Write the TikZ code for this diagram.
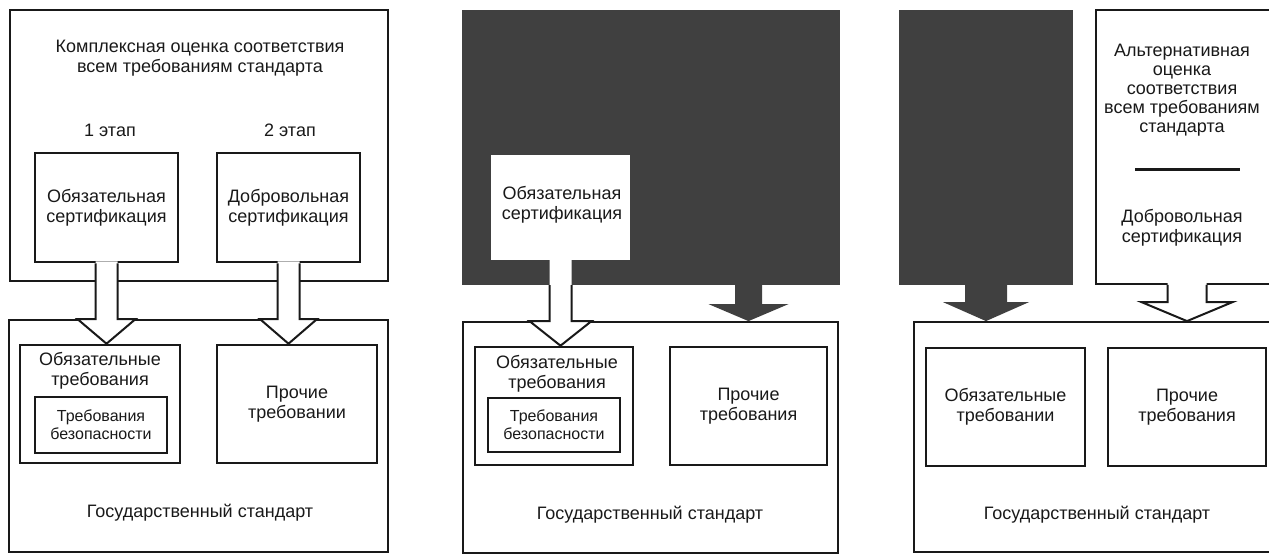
\documentclass[tikz,border=0pt]{standalone}
\usepackage{fontspec}
\setmainfont{Liberation Sans}
\usetikzlibrary{calc}
\definecolor{ink}{gray}{0.1}
\definecolor{darkfill}{gray}{0.25}

\tikzset{
  frame/.style={draw=ink, line width=1.8pt, inner sep=0pt},
  thickbox/.style={draw=ink, line width=2.6pt, inner sep=0pt, fill=white},
  lbl/.style={font=\fontsize{18}{20}\selectfont, align=center, text=ink, inner sep=0pt},
  small/.style={font=\fontsize{16}{18}\selectfont, align=center, text=ink, inner sep=0pt},
  arrowline/.style={draw=ink, line width=2pt, line join=miter},
}

% hollow block arrow: #1 fill start, #2 outline start, #3 tip, #4 head base, #5 half stem, #6 half head
\newcommand\hollowarrow[6]{%
  \fill[white] ($(#1)+(-#5,-2)$) -- ($(#4)+(-#5,0)$) -- ($(#4)+(-#6,0)$) -- (#3)
    -- ($(#4)+(#6,0)$) -- ($(#4)+(#5,0)$) -- ($(#1)+(#5,-2)$) -- cycle;
  \draw[arrowline] ($(#2)+(-#5,0)$) -- ($(#4)+(-#5,0)$) -- ($(#4)+(-#6,0)$) -- (#3)
    -- ($(#4)+(#6,0)$) -- ($(#4)+(#5,0)$) -- ($(#2)+(#5,0)$);
}
% solid block arrow: #1 start, #2 tip, #3 head base, #4 half stem, #5 half head
\newcommand\solidarrow[5]{%
  \fill[darkfill] ($(#1)+(-#4,-1)$) -- ($(#3)+(-#4,0)$) -- ($(#3)+(-#5,0)$) -- (#2)
    -- ($(#3)+(#5,0)$) -- ($(#3)+(#4,0)$) -- ($(#1)+(#4,-1)$) -- cycle;
}

\begin{document}
\begin{tikzpicture}[x=1pt, y=-1pt]
\useasboundingbox (0,0) rectangle (1269,554);

% ---------------- scheme 1: two-stage assessment ----------------
\node[frame, minimum width=378, minimum height=271] (t1) at (199,145.5) {};
\node[frame, minimum width=379, minimum height=232] (g1) at (198.5,436) {};
\node[thickbox, minimum width=143, minimum height=109] (c1) at (106.5,207.5) {};
\node[thickbox, minimum width=143, minimum height=109] (d1) at (288.5,207.5) {};
\node[thickbox, minimum width=160, minimum height=118] (r1) at (100,404) {};
\node[thickbox, minimum width=132, minimum height=56] (s1) at (101,425) {};
\node[thickbox, minimum width=160, minimum height=118] (p1) at (297,404) {};

\coordinate (a1t) at (c1.south |- r1.north);
\coordinate (a1b) at (c1.south |- g1.north);
\coordinate (b1t) at (d1.south |- p1.north);
\coordinate (b1b) at (d1.south |- g1.north);
\hollowarrow{c1.south}{c1.south}{a1t}{a1b}{11}{29}
\hollowarrow{d1.south}{d1.south}{b1t}{b1b}{11}{28.5}

\node[lbl] (t1txt) at (200,58) {Комплексная оценка соответствия\\всем требованиям стандарта};
\node[lbl] (st1) at (110,130) {1 этап};
\node[lbl] (st2) at (290,130) {2 этап};
\node[lbl] (c1txt) at (c1.center) {Обязательная\\сертификация};
\node[lbl] (d1txt) at (d1.center) {Добровольная\\сертификация};
\node[lbl] (r1txt) at (100,371) {Обязательные\\требования};
\node[small] (s1txt) at (s1.center) {Требования\\безопасности};
\node[lbl] (p1txt) at (p1.center) {Прочие\\требовании};
\node[lbl] (g1txt) at (200,513) {Государственный стандарт};

% ---------------- scheme 2: mandatory certification only ----------------
\node[fill=darkfill, inner sep=0pt, minimum width=378, minimum height=275] (k2) at (651,147.5) {};
\node[fill=white, inner sep=0pt, minimum width=139, minimum height=105] (w2) at (560.5,207.5) {};
\node[frame, minimum width=375, minimum height=231] (g2) at (650.5,437.5) {};
\node[thickbox, minimum width=158, minimum height=118] (r2) at (554,406) {};
\node[thickbox, minimum width=132, minimum height=54] (s2) at (554,425) {};
\node[thickbox, minimum width=157, minimum height=118] (p2) at (748.5,406) {};

\coordinate (a2o) at (w2.south |- k2.south);
\coordinate (a2t) at (w2.south |- r2.north);
\coordinate (a2b) at (w2.south |- g2.north);
\hollowarrow{w2.south}{a2o}{a2t}{a2b}{11}{31}
\coordinate (b2s) at (p2.north |- k2.south);
\coordinate (b2t) at (p2.north |- g2.north);
\coordinate (b2b) at ($(b2t)+(0,-17)$);
\solidarrow{b2s}{b2t}{b2b}{13.5}{40}

\node[lbl] (w2txt) at (562,205) {Обязательная\\сертификация};
\node[lbl] (r2txt) at (557,374) {Обязательные\\требования};
\node[small] (s2txt) at (s2.center) {Требования\\безопасности};
\node[lbl] (p2txt) at (p2.center) {Прочие\\требования};
\node[lbl] (g2txt) at (650,515) {Государственный стандарт};

% ---------------- scheme 3: alternative assessment ----------------
\node[fill=darkfill, inner sep=0pt, minimum width=174, minimum height=275] (k3) at (986,147.5) {};
\node[frame, fill=white, minimum width=174, minimum height=274] (a3) at (1183,147) {};
\node[frame, minimum width=366, minimum height=230] (g3) at (1097,437) {};
\node[thickbox, line width=2.2pt, minimum width=159, minimum height=118] (r3) at (1005.5,407) {};
\node[thickbox, line width=2.2pt, minimum width=158, minimum height=118] (p3) at (1187,407) {};

\coordinate (a3t) at (k3.south |- g3.north);
\coordinate (a3b) at ($(a3t)+(0,-19)$);
\solidarrow{k3.south}{a3t}{a3b}{21}{43}
\coordinate (b3s) at (p3.north |- a3.south);
\coordinate (b3t) at (p3.north |- g3.north);
\coordinate (b3b) at ($(b3t)+(0,-19)$);
\hollowarrow{b3s}{b3s}{b3t}{b3b}{19.5}{45.5}

\node[lbl, font=\fontsize{18}{19}\selectfont] (a3txt) at (1182,90)
  {Альтернативная\\оценка\\соответствия\\всем требованиям\\стандарта};
\draw[ink, line width=2.5pt] ($(a3txt.south)+(-47,33)$) -- ($(a3txt.south)+(58,33)$);
\node[lbl] (a3txt2) at (1182,228) {Добровольная\\сертификация};
\node[lbl] (r3txt) at (r3.center) {Обязательные\\требовании};
\node[lbl] (p3txt) at (p3.center) {Прочие\\требования};
\node[lbl] (g3txt) at (1097,515) {Государственный стандарт};
\end{tikzpicture}
\end{document}
